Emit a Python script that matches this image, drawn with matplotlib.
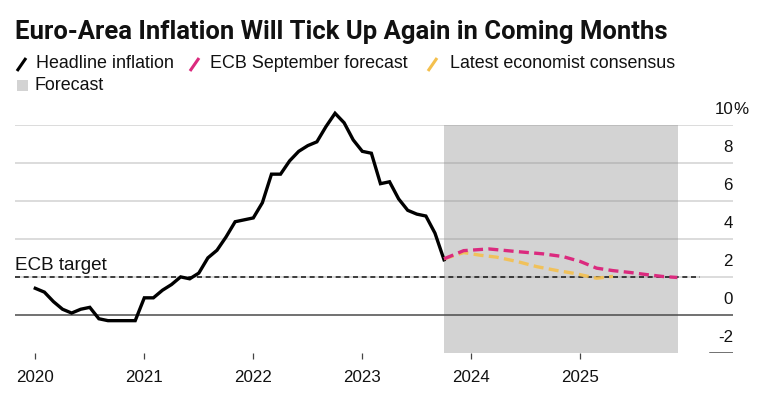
import matplotlib
matplotlib.use("Agg")
import matplotlib.pyplot as plt
from matplotlib import font_manager as fm
from matplotlib.lines import Line2D
from matplotlib.patches import Rectangle
import matplotlib.transforms as mtransforms

# ---------------- data ----------------
headline_start = 2020.0
headline = [1.4, 1.2, 0.7, 0.3, 0.1, 0.3, 0.4, -0.2, -0.3, -0.3, -0.3, -0.3,
            0.9, 0.9, 1.3, 1.6, 2.0, 1.9, 2.2, 3.0, 3.4, 4.1, 4.9, 5.0,
            5.1, 5.9, 7.4, 7.4, 8.1, 8.6, 8.9, 9.1, 9.9, 10.6, 10.1, 9.2,
            8.6, 8.5, 6.9, 7.0, 6.1, 5.5, 5.3, 5.2, 4.3, 2.9]
headline_x = [headline_start + i / 12 for i in range(len(headline))]

ecb_x = [2023.75, 2023.93, 2024.16, 2024.42, 2024.66, 2024.84, 2025.0,
         2025.15, 2025.30, 2025.46, 2025.61, 2025.76, 2025.89]
ecb_y = [2.95, 3.38, 3.47, 3.33, 3.21, 3.07, 2.81,
         2.46, 2.33, 2.23, 2.12, 2.02, 1.97]

cons_x = [2023.75, 2023.93, 2024.08, 2024.23, 2024.42, 2024.60, 2024.79,
          2024.94, 2025.15, 2025.30]
cons_y = [2.95, 3.28, 3.14, 3.04, 2.81, 2.54, 2.33,
          2.19, 1.93, 2.03]

forecast_span = (2023.75, 2025.90)
ecb_target = 2.0
year_ticks = [2020, 2021, 2022, 2023, 2024, 2025]
year_labels = ["2020", "2021", "2022", "2023", "2024", "2025"]
y_levels = [10, 8, 6, 4, 2, 0, -2]
y_labels = ["10", "8", "6", "4", "2", "0", "-2"]

title = "Euro-Area Inflation Will Tick Up Again in Coming Months"
legend_items = ["Headline inflation", "ECB September forecast",
                "Latest economist consensus"]

# ---------------- fonts ----------------
def has_font(name):
    try:
        fm.findfont(fm.FontProperties(family=name), fallback_to_default=False)
        return True
    except Exception:
        return False

base_font = "Liberation Sans" if has_font("Liberation Sans") else "DejaVu Sans"
title_font = base_font
for cand in ["Liberation Sans Narrow", "Roboto", "Liberation Sans"]:
    if has_font(cand):
        title_font = cand
        break
plt.rcParams["font.family"] = [base_font, "DejaVu Sans"]

PINK = "#db2a7e"
YELLOW = "#f4c04e"
SHADE = "#d3d3d3"

W, H = 758, 403
fig = plt.figure(figsize=(W / 100, H / 100), dpi=100)
fig.patch.set_facecolor("white")

def fx(px):
    return px / W

def fy(py):
    return 1 - py / H

# axes geometry (pixels)
L, R, T, B = 15, 733, 124.7, 353
ax = fig.add_axes([fx(L), fy(B), fx(R) - fx(L), fy(T) - fy(B)])
px_per_year = 109.0
x2020 = 35.3
ax.set_xlim(2020 + (L - x2020) / px_per_year, 2020 + (R - x2020) / px_per_year)
ax.set_ylim(-2, 10)
for s in ax.spines.values():
    s.set_visible(False)

# shading
ax.axvspan(forecast_span[0], forecast_span[1], ymin=0, ymax=1,
           color=SHADE, lw=0, zorder=1)

# gridlines
for v in [2, 4, 6, 8, 10]:
    ax.axhline(v, color="#8a8a8a", alpha=0.38, lw=1.1, zorder=2)
ax.axhline(0, color="#4a4a4a", lw=1.1, zorder=2)
ax.axhline(-2, xmin=(710 - L) / (R - L), xmax=1, color="#4a4a4a", lw=1.1, zorder=2)

# ECB target line
ax.plot([ax.get_xlim()[0], 2020 + (700 - x2020) / px_per_year], [ecb_target, ecb_target],
        color="#222222", lw=1.2, dashes=(3.0, 2.2), zorder=3)
ax.text(ax.get_xlim()[0], ecb_target + 0.35, "ECB target", fontsize=13.6,
        color="#111111", ha="left", va="baseline", zorder=6)

# series
ax.plot(headline_x, headline, color="black", lw=2.4, solid_joinstyle="miter",
        zorder=4, clip_on=False)
ax.plot(cons_x, cons_y, color=YELLOW, lw=2.4, alpha=0.9, dashes=(3.0, 1.6),
        zorder=5, solid_capstyle="butt")
ax.plot(ecb_x, ecb_y, color=PINK, lw=2.4, dashes=(3.0, 1.6), zorder=5)

# x ticks
ax.set_xticks(year_ticks)
ax.set_xticklabels(year_labels, fontsize=12.2, color="#111111")
ax.tick_params(axis="x", length=4.5, width=0.9, color="#444444", pad=8,
               direction="out")
ax.set_yticks([])

# right-side y labels
trans = mtransforms.blended_transform_factory(ax.transAxes, ax.transData)
for v, lab in zip(y_levels, y_labels):
    ax.text(1.0, v + 0.82, lab, transform=trans, ha="right", va="center",
            fontsize=12.2, color="#111111")
    if v == 10:
        ax.text(1.0, v + 0.82, "%", transform=trans, ha="left", va="center",
                fontsize=12.2, color="#111111")

# ---------------- title (fit to width) ----------------
renderer = fig.canvas.get_renderer()
t = fig.text(fx(15), fy(32), title, fontsize=17, fontweight="bold",
             family=[title_font, "DejaVu Sans"], ha="left", va="center",
             color="#111111")
wpx = t.get_window_extent(renderer).width
t.set_fontsize(17 * (653 / wpx))

# ---------------- legend ----------------
legend_cols = [(17, 36, "black", legend_items[0]),
               (190, 210, PINK, legend_items[1]),
               (428, 450, YELLOW, legend_items[2])]
leg_y = 64
for icon_x, text_x, col, lab in legend_cols:
    fig.add_artist(Line2D([fx(icon_x), fx(icon_x + 9)], [fy(leg_y + 7), fy(leg_y - 6)],
                          color=col, lw=2.2, transform=fig.transFigure,
                          solid_capstyle="butt"))
    fig.text(fx(text_x), fy(leg_y), lab, fontsize=12.9, ha="left", va="center",
             color="#111111")
fig.add_artist(Rectangle((fx(17), fy(91)), fx(11), fy(80) - fy(91),
                         transform=fig.transFigure, facecolor=SHADE,
                         edgecolor="none"))
fig.text(fx(35), fy(86), "Forecast", fontsize=12.9, ha="left", va="center",
         color="#111111")

fig.savefig("out.png", dpi=100, facecolor="white")
